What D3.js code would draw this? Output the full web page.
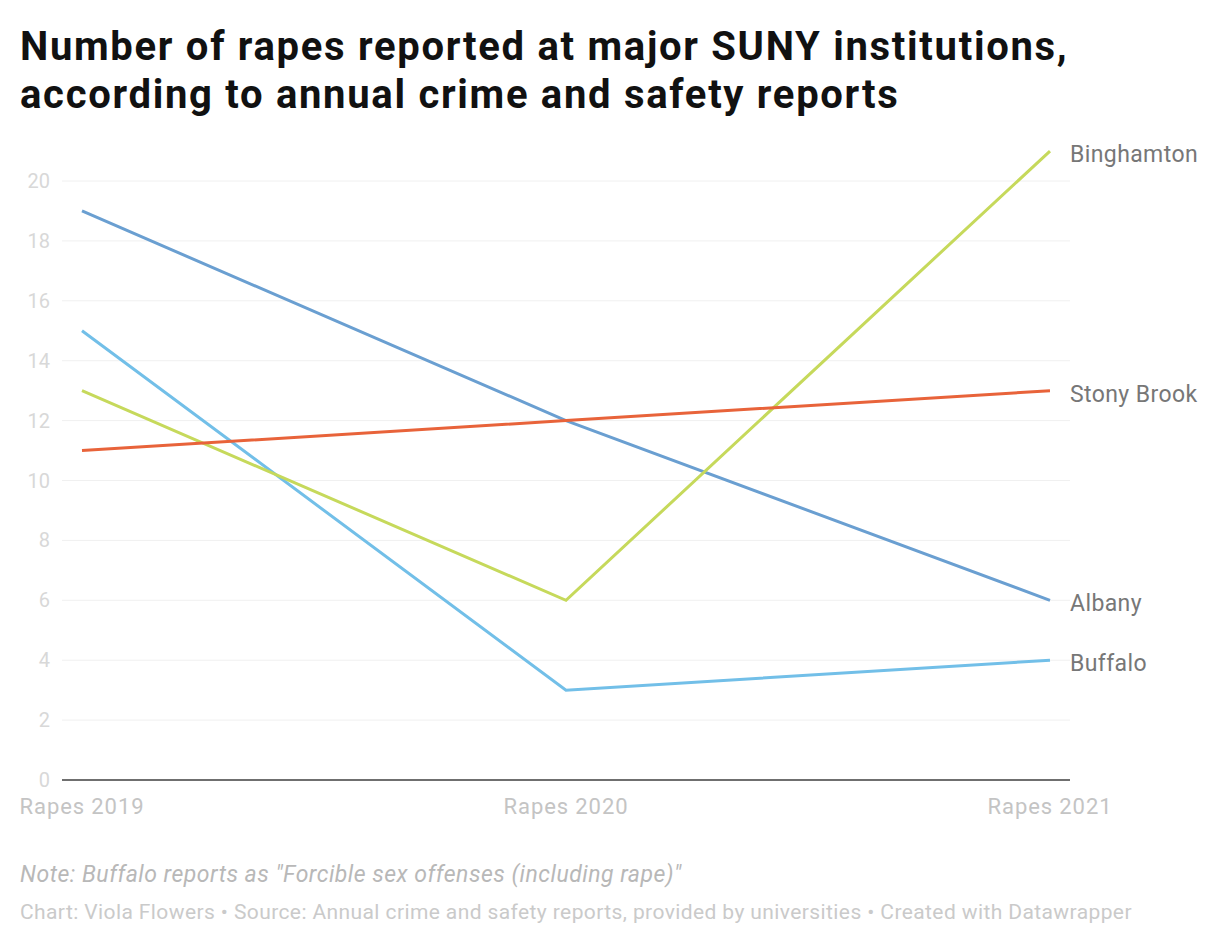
<!DOCTYPE html>
<meta charset="utf-8">
<script src="https://d3js.org/d3.v7.min.js"></script>
<style>
  body { margin: 0; background: #fff; font-family: Roboto, "Noto Sans", sans-serif; }
</style>
<body>
<div id="chart"></div>
<script>
  // data
  var years = ["Rapes 2019", "Rapes 2020", "Rapes 2021"];
  var albany = [19, 12, 6];
  var buffalo = [15, 3, 4];
  var binghamton = [13, 6, 21];
  var stonyBrook = [11, 12, 13];
  var yTicks = [0, 2, 4, 6, 8, 10, 12, 14, 16, 18, 20];

  var series = [
    { name: "Albany", values: albany, color: "#6a9fd1" },
    { name: "Buffalo", values: buffalo, color: "#72bfe8" },
    { name: "Binghamton", values: binghamton, color: "#c6d95b" },
    { name: "Stony Brook", values: stonyBrook, color: "#e8633a" }
  ];

  var W = 1220, H = 940;
  var svg = d3.select("#chart").append("svg")
    .attr("width", W).attr("height", H);

  // title
  var title = svg.append("text")
    .style("font-size", "40px").style("font-weight", "700")
    .style("letter-spacing", "1.7px").style("fill", "#111");
  title.append("tspan").attr("x", 20).attr("y", 60)
    .text("Number of rapes reported at major SUNY institutions,");
  title.append("tspan").attr("x", 20).attr("y", 108)
    .text("according to annual crime and safety reports");

  // scales
  var x = d3.scalePoint().domain(years).range([82, 1050]);
  var y = d3.scaleLinear().domain([0, 20]).range([780, 181]);

  // grid
  svg.append("g").selectAll("line")
    .data(yTicks.filter(function(d) { return d > 0; }))
    .enter().append("line")
    .attr("x1", 62).attr("x2", 1070)
    .attr("y1", function(d) { return y(d); })
    .attr("y2", function(d) { return y(d); })
    .attr("stroke", "#f0f0f0").attr("stroke-width", 1);

  // y labels
  svg.append("g").selectAll("text")
    .data(yTicks)
    .enter().append("text")
    .attr("x", 50)
    .attr("y", function(d) { return y(d) + 7; })
    .attr("text-anchor", "end")
    .style("font-size", "20px").style("fill", "#d8d8d8")
    .text(function(d) { return d; });

  // baseline
  svg.append("line")
    .attr("x1", 62).attr("x2", 1070)
    .attr("y1", y(0)).attr("y2", y(0))
    .attr("stroke", "#6f6f6f").attr("stroke-width", 2);

  // x labels
  svg.append("g").selectAll("text")
    .data(years)
    .enter().append("text")
    .attr("x", function(d) { return x(d); })
    .attr("y", 814)
    .attr("text-anchor", "middle")
    .style("font-size", "22px").style("letter-spacing", "0.9px").style("fill", "#c4c4c4")
    .text(function(d) { return d; });

  // lines
  var line = d3.line()
    .x(function(d, i) { return x(years[i]); })
    .y(function(d) { return y(d); });

  svg.append("g").selectAll("path")
    .data(series)
    .enter().append("path")
    .attr("d", function(d) { return line(d.values); })
    .attr("fill", "none")
    .attr("stroke", function(d) { return d.color; })
    .attr("stroke-width", 3);

  // line labels
  svg.append("g").selectAll("text")
    .data(series)
    .enter().append("text")
    .attr("x", 1070)
    .attr("y", function(d) { return y(d.values[2]) + 11; })
    .style("font-size", "23px").style("letter-spacing", "0.4px").style("fill", "#777")
    .text(function(d) { return d.name; });

  // notes
  svg.append("text")
    .attr("x", 20).attr("y", 882)
    .style("font-size", "23px").style("font-style", "italic")
    .style("letter-spacing", "0.5px").style("fill", "#b8b8b8")
    .text("Note: Buffalo reports as \"Forcible sex offenses (including rape)\"");

  svg.append("text")
    .attr("x", 20).attr("y", 919)
    .style("font-size", "21px").style("letter-spacing", "0.4px").style("fill", "#cacaca")
    .text("Chart: Viola Flowers \u2022 Source: Annual crime and safety reports, provided by universities \u2022 Created with Datawrapper");
</script>
</body>
</html>
